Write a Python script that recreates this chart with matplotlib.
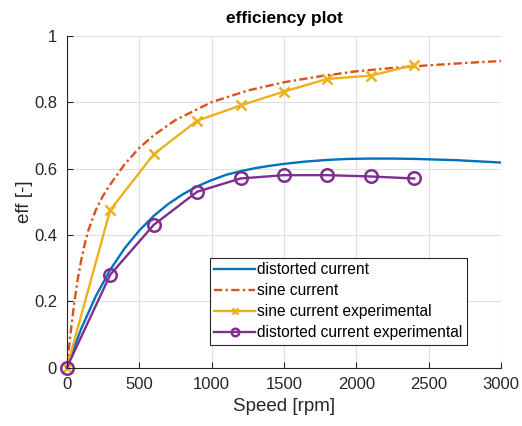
import matplotlib
matplotlib.use("Agg")
import matplotlib.pyplot as plt

plt.rcParams["font.family"] = ["Liberation Sans", "DejaVu Sans"]

# model curves
dist_speed = [0, 100, 200, 300, 400, 500, 600, 700, 800, 900, 1000, 1100, 1200,
              1300, 1400, 1500, 1650, 1800, 1950, 2100, 2250, 2400, 2700, 3000]
dist_eff = [0, 0.118, 0.215, 0.295, 0.36, 0.413, 0.457, 0.493, 0.522, 0.546,
            0.565, 0.581, 0.592, 0.601, 0.608, 0.614, 0.621, 0.626, 0.629, 0.63,
            0.63, 0.629, 0.625, 0.618]

sine_speed = [0, 25, 50, 75, 100, 125, 150, 200, 250, 300, 400, 500, 600, 750,
              1000, 1250, 1500, 1750, 2000, 2250, 2500, 2750, 3000]
sine_eff = [0, 0.10, 0.19, 0.265, 0.325, 0.375, 0.415, 0.475, 0.518, 0.552,
            0.613, 0.662, 0.70, 0.746, 0.80, 0.835, 0.86, 0.878, 0.893, 0.903,
            0.911, 0.918, 0.924]

# measured points
exp_speed = [0, 300, 600, 900, 1200, 1500, 1800, 2100, 2400]
sine_exp = [0, 0.475, 0.643, 0.744, 0.79, 0.832, 0.87, 0.88, 0.912]
dist_exp = [0, 0.28, 0.43, 0.53, 0.57, 0.58, 0.58, 0.576, 0.57]

c_blue = "#0072BD"
c_orange = "#D95319"
c_yellow = "#EDB120"
c_purple = "#7E2F8E"

fig = plt.figure(figsize=(5.22, 4.26), dpi=100)
ax = fig.add_axes([0.128, 0.137, 0.832, 0.779])

ax.plot(dist_speed, dist_eff, color=c_blue, lw=1.7, label="distorted current")
ax.plot(sine_speed, sine_eff, color=c_orange, lw=1.7, dashes=(3.5, 1.4, 1, 1.4),
        label="sine current")
ax.plot(exp_speed, sine_exp, color=c_yellow, lw=1.7, marker="x", ms=7, mew=1.8,
        label="sine current experimental", clip_on=False)
ax.plot(exp_speed, dist_exp, color=c_purple, lw=1.7, marker="o", ms=9, mew=1.8,
        mfc="none", label="distorted current experimental", clip_on=False)

ax.set_xlim(0, 3000)
ax.set_ylim(0, 1)
ax.set_xticks(range(0, 3001, 500))
ax.set_yticks([0, 0.2, 0.4, 0.6, 0.8, 1])
ax.set_yticklabels(["0", "0.2", "0.4", "0.6", "0.8", "1"])

ax.grid(True, color="#dfdfdf", lw=0.8)
ax.set_axisbelow(True)
for s in ["top", "right"]:
    ax.spines[s].set_visible(False)
for s in ["left", "bottom"]:
    ax.spines[s].set_color("#262626")
    ax.spines[s].set_linewidth(0.8)
ax.tick_params(direction="in", length=4, colors="#262626", labelsize=12)
ax.tick_params(axis="x", pad=7)
ax.tick_params(axis="y", pad=7)

ax.set_xlabel("Speed [rpm]", fontsize=13.5, color="#262626", labelpad=4)
ax.set_ylabel("eff [-]", fontsize=13.5, color="#262626", labelpad=1)
ax.set_title("efficiency plot", fontsize=12.5, fontweight="bold", pad=9)

leg = ax.legend(loc="upper right", bbox_to_anchor=(0.922, 0.331), fontsize=11.2,
                fancybox=False, edgecolor="#262626", framealpha=1,
                handlelength=2.6, handletextpad=0.15, labelspacing=0.38,
                borderaxespad=0, borderpad=0.3, markerscale=0.6)
leg.get_frame().set_linewidth(0.8)

fig.savefig("out.png", dpi=100)
